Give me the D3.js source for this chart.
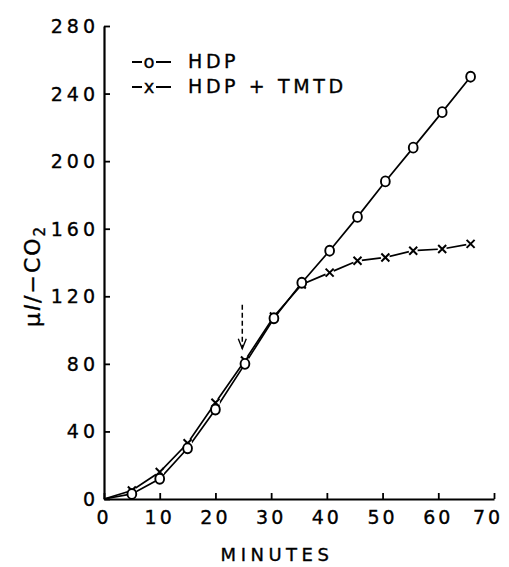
<!DOCTYPE html>
<html>
<head>
<meta charset="utf-8">
<script src="https://cdn.jsdelivr.net/npm/d3@7"></script>
<style>
  html, body { margin: 0; padding: 0; background: #fff; }
  svg { display: block; }
  text { font-family: "DejaVu Sans", "Liberation Sans", sans-serif; fill: #000; stroke: #000; stroke-width: 0.35px; }
</style>
</head>
<body>
<svg id="chart" width="509" height="567"></svg>
<script>
// Time points (minutes), origin included so both curves start at 0
const minutes = [0, 5, 10, 15, 20, 25.3, 30.5, 35.5, 40.5, 45.5, 50.5, 55.5, 60.7, 65.8];
// µl CO2 evolved, HDP alone
const hdp = [0, 3, 12, 30, 53, 80, 107, 128, 147, 167, 188, 208, 229, 250];
// µl CO2 evolved, HDP + TMTD
const hdpTmtd = [0, 5, 16, 33, 57, 82, 108, 127, 134, 141, 143, 147, 148, 151];

const xTicks = [0, 10, 20, 30, 40, 50, 60, 70];
const yTicks = [0, 40, 80, 120, 160, 200, 240, 280];

// TMTD addition marker (minute, arrow start value, arrow tip value)
const additionTime = 25;
const arrowFrom = 115;
const arrowTo = 89;

const legendItems = [
  { symbol: "o", label: "HDP" },
  { symbol: "x", label: "HDP + TMTD" }
];

const svg = d3.select("#chart");
const ink = "#000";

const x = d3.scaleLinear().domain([0, 70]).range([104, 494]);
const y = d3.scaleLinear().domain([0, 280]).range([499, 26]);

// Axes
const xAxis = d3.axisBottom(x).tickValues(xTicks).tickSize(-6).tickSizeOuter(0).tickFormat("");
const yAxis = d3.axisLeft(y).tickValues(yTicks).tickSize(-6).tickSizeOuter(0).tickFormat("");

const gx = svg.append("g").attr("transform", `translate(0,${y(0)})`).call(xAxis);
const gy = svg.append("g").attr("transform", `translate(${x(0)},0)`).call(yAxis);
[gx, gy].forEach(g => {
  g.select(".domain").attr("stroke", ink).attr("stroke-width", 2.2);
  g.selectAll(".tick line").attr("stroke", ink).attr("stroke-width", 1.8);
});

// Tick labels
svg.append("g").selectAll("text").data(xTicks).join("text")
  .attr("x", d => x(d) - (d === 70 ? 6 : 0))
  .attr("y", y(0) + 25)
  .attr("text-anchor", "middle")
  .attr("font-size", 19)
  .attr("letter-spacing", 3)
  .text(d => d);

svg.append("g").selectAll("text").data(yTicks).join("text")
  .attr("x", x(0) - 5)
  .attr("y", d => y(d) + 7)
  .attr("text-anchor", "end")
  .attr("font-size", 19)
  .attr("letter-spacing", 4)
  .text(d => d);

// Axis titles
svg.append("text")
  .attr("x", 277)
  .attr("y", 561)
  .attr("text-anchor", "middle")
  .attr("font-size", 18)
  .attr("letter-spacing", 4.5)
  .text("MINUTES");

const yTitle = svg.append("text")
  .attr("transform", `translate(40,276) rotate(-90)`)
  .attr("text-anchor", "middle")
  .attr("font-size", 22)
  .attr("letter-spacing", 2);
yTitle.append("tspan").text("μ");
yTitle.append("tspan").attr("font-style", "italic").text("l");
yTitle.append("tspan").text("/−CO");
yTitle.append("tspan").attr("font-size", 15).attr("dy", 5).text("2");

// Curves
const line = d3.line().x(d => x(d[0])).y(d => y(d[1]));
const seriesHdp = minutes.map((m, i) => [m, hdp[i]]);
const seriesTmtd = minutes.map((m, i) => [m, hdpTmtd[i]]);

svg.append("path").datum(seriesTmtd).attr("d", line)
  .attr("fill", "none").attr("stroke", ink).attr("stroke-width", 1.7);
svg.append("path").datum(seriesHdp).attr("d", line)
  .attr("fill", "none").attr("stroke", ink).attr("stroke-width", 1.7);

// Markers (skip the origin)
const mk = 4;
const xMarks = svg.append("g").selectAll("g").data(seriesTmtd.slice(1)).join("g")
  .attr("transform", d => `translate(${x(d[0])},${y(d[1])})`);
xMarks.append("circle").attr("r", 4.5).attr("fill", "#fff");
xMarks.append("path")
  .attr("d", `M${-mk},${-mk}L${mk},${mk}M${mk},${-mk}L${-mk},${mk}`)
  .attr("stroke", ink).attr("stroke-width", 2).attr("fill", "none");

svg.append("g").selectAll("ellipse").data(seriesHdp.slice(1)).join("ellipse")
  .attr("cx", d => x(d[0])).attr("cy", d => y(d[1]))
  .attr("rx", 4.4).attr("ry", 5)
  .attr("fill", "#fff").attr("stroke", ink).attr("stroke-width", 1.9);

// Dashed arrow marking the TMTD addition
const ax = x(additionTime) - 1;
svg.append("line")
  .attr("x1", ax).attr("x2", ax)
  .attr("y1", y(arrowFrom)).attr("y2", y(arrowTo))
  .attr("stroke", ink).attr("stroke-width", 1.5).attr("stroke-dasharray", "5,3");
svg.append("path")
  .attr("d", `M${ax - 4},${y(arrowTo) - 10}L${ax},${y(arrowTo)}L${ax + 4},${y(arrowTo) - 10}`)
  .attr("fill", "none").attr("stroke", ink).attr("stroke-width", 1.4);

// Legend
const lg = svg.append("g").selectAll("g").data(legendItems).join("g")
  .attr("transform", (d, i) => `translate(132,${68 + i * 25})`);
lg.append("line").attr("x1", 0).attr("x2", 10).attr("y1", -6).attr("y2", -6)
  .attr("stroke", ink).attr("stroke-width", 2);
lg.append("text").attr("x", 17).attr("text-anchor", "middle").attr("font-size", 18).text(d => d.symbol);
lg.append("line").attr("x1", 24).attr("x2", 39).attr("y1", -6).attr("y2", -6)
  .attr("stroke", ink).attr("stroke-width", 2);
lg.append("text").attr("x", 56).attr("font-size", 19).attr("letter-spacing", 3.6).text(d => d.label);
</script>
</body>
</html>
